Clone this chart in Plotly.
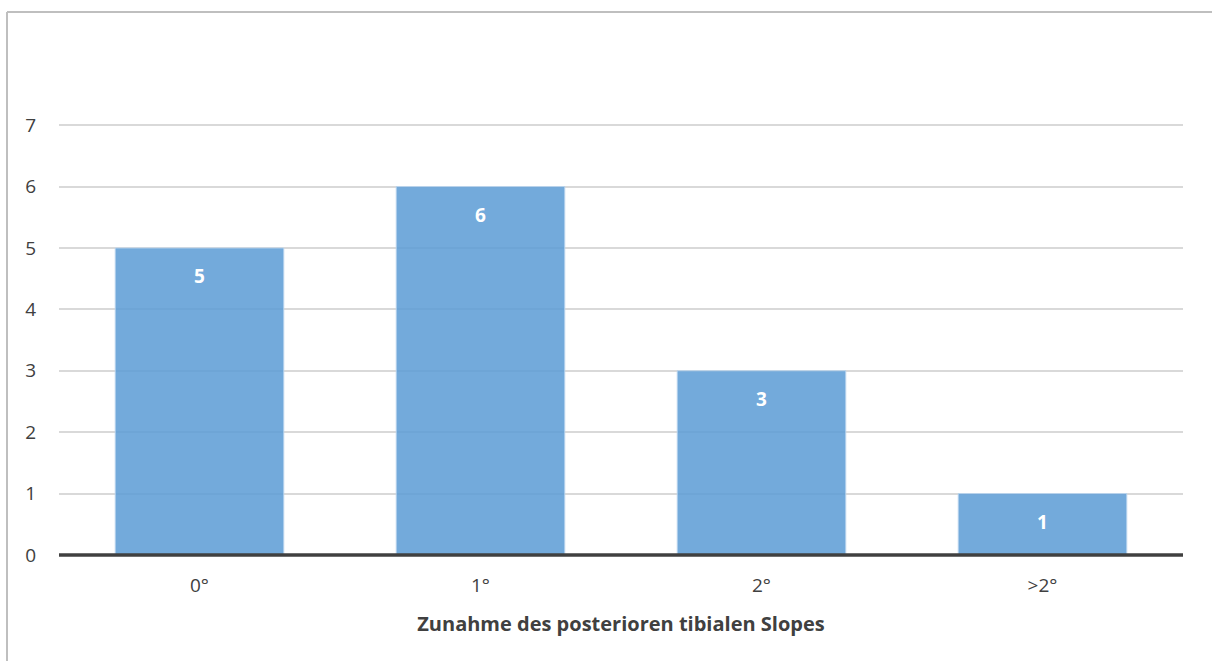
import plotly.graph_objects as go

categories = ["0°", "1°", "2°", ">2°"]
counts = [5, 6, 3, 1]
y_ticks = [0, 1, 2, 3, 4, 5, 6, 7]
x_title = "Zunahme des posterioren tibialen Slopes"

W, H = 1212, 661
L, R, T, B = 59, 29, 124, 106
plot_w = W - L - R
plot_h = H - T - B

def px_x(p):
    return (p - L) / plot_w

def px_y(p):
    return (H - B - p) / plot_h

fig = go.Figure()
fig.add_trace(go.Bar(
    x=categories,
    y=counts,
    width=0.6,
    marker=dict(color="rgba(91,155,213,0.85)",
                line=dict(color="rgba(190,215,240,0.9)", width=1)),
    hoverinfo="skip",
))

# value labels inside the bars, near the top
for c, v in zip(categories, counts):
    fig.add_annotation(x=c, y=v, yshift=-28, text=f"<b>{v}</b>", showarrow=False,
                       font=dict(family="Open Sans", size=19, color="white"))

# chart border (top and left edges visible)
border = dict(color="#bfbfbf", width=2)
fig.add_shape(type="line", xref="paper", yref="paper",
              x0=px_x(7), x1=px_x(W + 5), y0=px_y(12), y1=px_y(12), line=border)
fig.add_shape(type="line", xref="paper", yref="paper",
              x0=px_x(7), x1=px_x(7), y0=px_y(12), y1=px_y(H + 5), line=border)

fig.update_layout(
    width=W, height=H,
    margin=dict(l=L, r=R, t=T, b=B, pad=0),
    paper_bgcolor="white", plot_bgcolor="white",
    showlegend=False,
    font=dict(family="Open Sans", size=19, color="#404040"),
    xaxis=dict(
        type="category", range=[-0.5, 3.5],
        showgrid=False, showline=False, zeroline=False, ticks="",
        tickfont=dict(size=19, color="#404040"),
        ticklabelstandoff=17,
        title=dict(text=f"<b>{x_title}</b>", font=dict(size=20, color="#404040"), standoff=19),
    ),
    yaxis=dict(
        range=[0, 7.02], tickvals=y_ticks,
        showgrid=True, gridcolor="#d9d9d9", gridwidth=1.5,
        zeroline=False, showline=False, ticks="",
        tickfont=dict(size=19, color="#404040"),
        ticklabelstandoff=22,
    ),
)

# dark baseline along zero
fig.add_shape(type="line", xref="paper", yref="paper", x0=0, x1=1, y0=0, y1=0,
              line=dict(color="#404040", width=3.5), layer="above")

fig.write_html("out.html")
